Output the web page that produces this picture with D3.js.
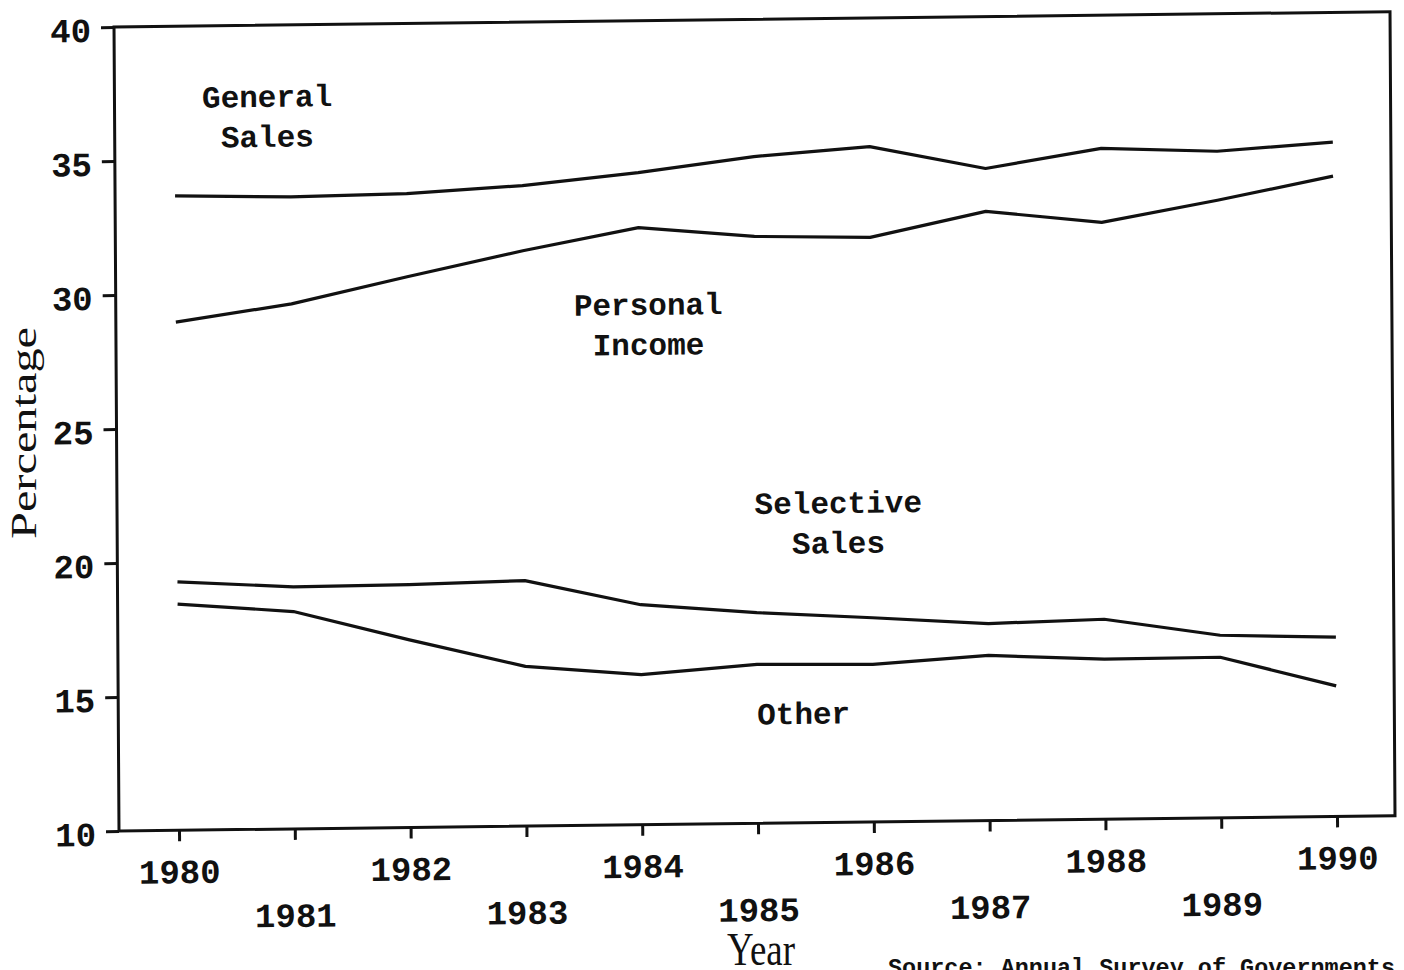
<!DOCTYPE html>
<html>
<head>
<meta charset="utf-8">
<script src="https://cdn.jsdelivr.net/npm/d3@7"></script>
<style>
  body { margin: 0; background: #fff; }
  svg { display: block; }
</style>
</head>
<body>
<div id="chart"></div>
<script>
// DATA
const years = [1980, 1981, 1982, 1983, 1984, 1985, 1986, 1987, 1988, 1989, 1990];
const yTicks = [10, 15, 20, 25, 30, 35, 40];

const generalSales = [33.67, 33.58, 33.65, 33.9, 34.33, 34.88, 35.2, 34.33, 35.03, 34.87, 35.16];
const personalIncome = [28.96, 29.59, 30.55, 31.47, 32.28, 31.9, 31.81, 32.73, 32.27, 33.04, 33.89];
const selectiveSales = [19.27, 19.03, 19.06, 19.16, 18.21, 17.86, 17.62, 17.35, 17.46, 16.81, 16.69];
const otherTaxes = [18.44, 18.11, 17.0, 15.96, 15.6, 15.93, 15.88, 16.16, 15.97, 15.99, 14.87];

const seriesList = [generalSales, personalIncome, selectiveSales, otherTaxes];

// SVG setup
const WIDTH = 1404;
const HEIGHT = 970;
const LEFT = 119;
const RIGHT = 1395;
const TOP = 27;
const BOTTOM = 831;
const MONO = "'Liberation Mono', 'DejaVu Sans Mono', monospace";
const SERIF = "'Liberation Serif', 'DejaVu Serif', serif";
const INK = "#111";

const svg = d3
  .select("#chart")
  .append("svg")
  .attr("width", WIDTH)
  .attr("height", HEIGHT);

// the scan is slightly skewed, so the plot is drawn in a sheared group
const g = svg
  .append("g")
  .attr(
    "transform",
    `translate(${LEFT}, ${BOTTOM}) matrix(1, -0.012, 0.0062, 1, 0, 0) translate(${-LEFT}, ${-BOTTOM})`
  );

// scales
const xScale = d3.scaleLinear().domain([1980, 1990]).range([179, 1337]);
const yScale = d3.scaleLinear().domain([10, 40]).range([BOTTOM, TOP]);

// frame
g.append("rect")
  .attr("x", LEFT)
  .attr("y", TOP)
  .attr("width", RIGHT - LEFT)
  .attr("height", BOTTOM - TOP)
  .attr("fill", "none")
  .attr("stroke", INK)
  .attr("stroke-width", 3);

// y axis
const yAxis = g
  .append("g")
  .attr("transform", `translate(${LEFT}, 0)`)
  .call(
    d3.axisLeft(yScale).tickValues(yTicks).tickSize(13).tickPadding(10)
  );

// x axis
const xAxis = g
  .append("g")
  .attr("transform", `translate(0, ${BOTTOM})`)
  .call(
    d3.axisBottom(xScale).tickValues(years).tickFormat(d3.format("d")).tickSize(11)
  );

[yAxis, xAxis].forEach((ax) => {
  ax.select(".domain").remove();
  ax.selectAll(".tick line").attr("stroke", INK).attr("stroke-width", 3);
  ax.selectAll(".tick text")
    .attr("fill", INK)
    .attr("font-family", MONO)
    .attr("font-weight", "bold")
    .attr("font-size", "34px");
});

yAxis.selectAll(".tick text").attr("dy", "0.42em");

// even years on the first row, odd years on the second
xAxis
  .selectAll(".tick text")
  .attr("y", (d) => (d % 2 === 0 ? 53 : 98))
  .attr("dy", 0);

// lines
const line = d3
  .line()
  .x((d, i) => xScale(years[i]))
  .y((d) => yScale(d));

g.selectAll(".series")
  .data(seriesList)
  .enter()
  .append("path")
  .attr("class", "series")
  .attr("d", line)
  .attr("fill", "none")
  .attr("stroke", INK)
  .attr("stroke-width", 3.2)
  .attr("stroke-linejoin", "round");

// line labels
const labels = [
  { lines: ["General", "Sales"], year: 1980.8, value: 36.95 },
  { lines: ["Personal", "Income"], year: 1984.08, value: 29.02 },
  { lines: ["Selective", "Sales"], year: 1985.71, value: 21.54 },
  { lines: ["Other"], year: 1985.4, value: 13.69 },
];

labels.forEach((lab) => {
  const t = g
    .append("text")
    .attr("x", xScale(lab.year))
    .attr("y", yScale(lab.value))
    .attr("text-anchor", "middle")
    .attr("font-family", MONO)
    .attr("font-weight", "bold")
    .attr("font-size", "31px")
    .attr("fill", INK);
  lab.lines.forEach((s, i) => {
    t.append("tspan")
      .attr("x", xScale(lab.year))
      .attr("dy", i === 0 ? 0 : 40)
      .text(s);
  });
});

// axis titles
svg
  .append("text")
  .attr("transform", "translate(36, 433) rotate(-90)")
  .attr("text-anchor", "middle")
  .attr("font-family", SERIF)
  .attr("font-size", "36px")
  .attr("textLength", 212)
  .attr("lengthAdjust", "spacingAndGlyphs")
  .attr("fill", INK)
  .text("Percentage");

svg
  .append("text")
  .attr("x", 727)
  .attr("y", 965)
  .attr("font-family", SERIF)
  .attr("font-size", "46px")
  .attr("textLength", 68)
  .attr("lengthAdjust", "spacingAndGlyphs")
  .attr("fill", INK)
  .text("Year");

// source note
svg
  .append("text")
  .attr("x", 1395)
  .attr("y", 975)
  .attr("text-anchor", "end")
  .attr("font-family", MONO)
  .attr("font-weight", "bold")
  .attr("font-size", "23px")
  .attr("textLength", 507)
  .attr("lengthAdjust", "spacingAndGlyphs")
  .attr("fill", INK)
  .text("Source: Annual Survey of Governments");
</script>
</body>
</html>
